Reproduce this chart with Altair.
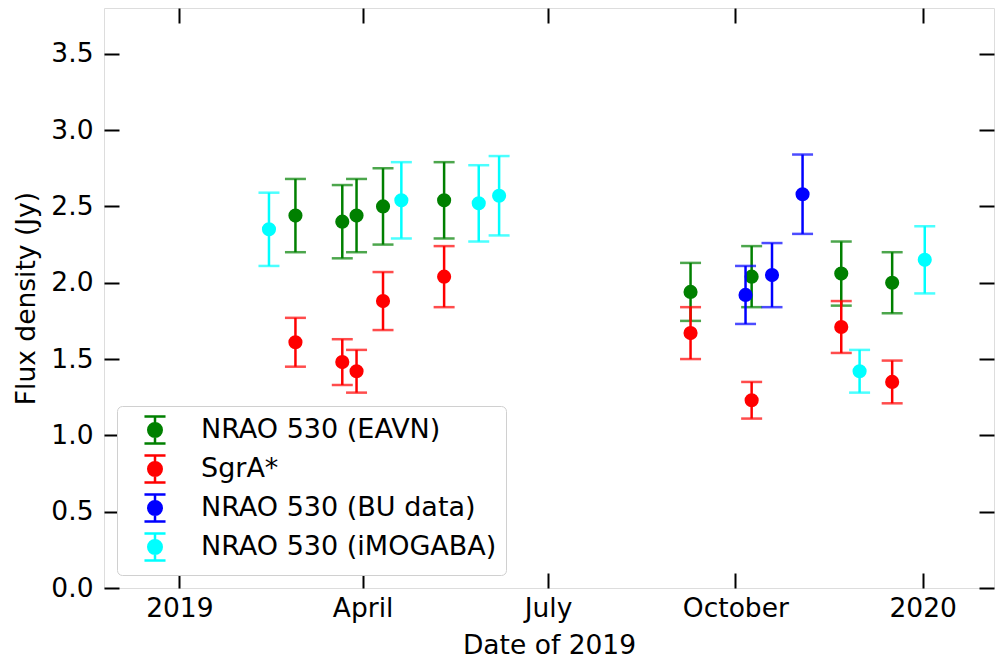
import altair as alt
import pandas as pd

# Series names and colours (legend order)
SERIES = ["NRAO 530 (EAVN)", "SgrA*", "NRAO 530 (BU data)", "NRAO 530 (iMOGABA)"]
COLORS = ["#008000", "#ff0000", "#0000ff", "#00ffff"]

# NRAO 530 observed with EAVN
eavn_dates = ["2019-02-27", "2019-03-22", "2019-03-29", "2019-04-11", "2019-05-11",
              "2019-09-09", "2019-10-09", "2019-11-22", "2019-12-17"]
eavn_flux = [2.44, 2.40, 2.44, 2.50, 2.54, 1.94, 2.04, 2.06, 2.00]
eavn_err = [0.24, 0.24, 0.24, 0.25, 0.25, 0.19, 0.20, 0.21, 0.20]

# SgrA* observed in the same sessions
sgra_dates = eavn_dates
sgra_flux = [1.61, 1.48, 1.42, 1.88, 2.04, 1.67, 1.23, 1.71, 1.35]
sgra_err = [0.16, 0.15, 0.14, 0.19, 0.20, 0.17, 0.12, 0.17, 0.14]

# NRAO 530 from the BU blazar monitoring
bu_dates = ["2019-10-06", "2019-10-19", "2019-11-03"]
bu_flux = [1.92, 2.05, 2.58]
bu_err = [0.19, 0.21, 0.26]

# NRAO 530 from iMOGABA
imogaba_dates = ["2019-02-14", "2019-04-20", "2019-05-28", "2019-06-07",
                 "2019-12-01", "2020-01-02"]
imogaba_flux = [2.35, 2.54, 2.52, 2.57, 1.42, 2.15]
imogaba_err = [0.24, 0.25, 0.25, 0.26, 0.14, 0.22]

# Axis ticks
x_tick_dates = [(2019, 1), (2019, 4), (2019, 7), (2019, 10), (2020, 1)]
y_tick_values = [0.0, 0.5, 1.0, 1.5, 2.0, 2.5, 3.0, 3.5]

rows = []
for name, dates, flux, err in [
    (SERIES[0], eavn_dates, eavn_flux, eavn_err),
    (SERIES[1], sgra_dates, sgra_flux, sgra_err),
    (SERIES[2], bu_dates, bu_flux, bu_err),
    (SERIES[3], imogaba_dates, imogaba_flux, imogaba_err),
]:
    for d, f, e in zip(dates, flux, err):
        rows.append({"series": name, "date": d, "flux": f, "lo": f - e, "hi": f + e})
df = pd.DataFrame(rows)

W, H = 890, 580
FONT = "DejaVu Sans"
FS = 26.5

x_ticks = [alt.DateTime(year=y, month=m, date=1, utc=True) for y, m in x_tick_dates]
x_scale = alt.Scale(
    type="utc",
    domain=[alt.DateTime(year=2018, month=11, date=25, utc=True),
            alt.DateTime(year=2020, month=2, date=5, utc=True)],
)
y_scale = alt.Scale(domain=[0, 3.8], nice=False, zero=False)

# error bar with caps and a filled dot, as a legend glyph
ERRBAR_SYMBOL = ("M-0.78,-1L0.78,-1M0,-1L0,1M-0.78,1L0.78,1"
                 "M0.5,0A0.5,0.5,0,1,1,-0.5,0A0.5,0.5,0,1,1,0.5,0Z")

color = alt.Color(
    "series:N",
    scale=alt.Scale(domain=SERIES, range=COLORS),
    legend=alt.Legend(
        title=None, orient="bottom-left", offset=13,
        symbolType=ERRBAR_SYMBOL, symbolSize=729, symbolStrokeWidth=2.5,
        symbolOpacity=1,
        labelFont=FONT, labelFontSize=27, labelColor="black", labelLimit=0,
        labelOffset=31, symbolOffset=14, padding=9, rowPadding=1,
        strokeColor="#d0d0d0", fillColor="white", cornerRadius=5,
    ),
)

x_label_axis = alt.Axis(
    orient="bottom", values=x_ticks,
    labelExpr="utcmonth(datum.value) == 0 ? utcFormat(datum.value, '%Y') : utcFormat(datum.value, '%B')",
    ticks=False, tickSize=0, domain=False, grid=False,
    labelFont=FONT, labelFontSize=FS, labelColor="black", labelPadding=7,
    labelFlush=False, labelOverlap=False,
    title="Date of 2019", titleFont=FONT, titleFontSize=FS, titleFontWeight="normal",
    titleColor="black", titlePadding=11,
)
y_label_axis = alt.Axis(
    orient="left", values=y_tick_values, format=".1f",
    ticks=False, tickSize=0, domain=False, grid=False,
    labelFont=FONT, labelFontSize=FS, labelColor="black", labelPadding=11,
    labelOverlap=False,
    title="Flux density (Jy)", titleFont=FONT, titleFontSize=FS, titleFontWeight="normal",
    titleColor="black", titlePadding=10,
)


def tick_axis(orient, values, offset):
    return alt.Axis(
        orient=orient, values=values, offset=offset, labels=False, domain=False,
        grid=False, ticks=True, tickSize=15, tickWidth=2, tickColor="black", title=None,
    )


layers = []
first = True
for name in SERIES:
    sub = alt.Chart(df).transform_filter(alt.datum.series == name)
    if first:
        xa, ya = x_label_axis, y_label_axis
    else:
        xa, ya = None, None
    bars = sub.mark_rule(strokeWidth=2.5).encode(
        x=alt.X("date:T", scale=x_scale, axis=xa),
        y=alt.Y("lo:Q", scale=y_scale, axis=ya),
        y2="hi:Q",
        color=color,
    )
    caps_lo = sub.mark_tick(orient="horizontal", size=21, thickness=2.5).encode(
        x=alt.X("date:T", scale=x_scale, axis=None),
        y=alt.Y("lo:Q", scale=y_scale, axis=None),
        color=color,
    )
    caps_hi = sub.mark_tick(orient="horizontal", size=21, thickness=2.5).encode(
        x=alt.X("date:T", scale=x_scale, axis=None),
        y=alt.Y("hi:Q", scale=y_scale, axis=None),
        color=color,
    )
    dots = sub.mark_point(filled=True, size=200, opacity=1, shape="circle").encode(
        x=alt.X("date:T", scale=x_scale, axis=None),
        y=alt.Y("flux:Q", scale=y_scale, axis=None),
        color=color,
    )
    layers += [bars, caps_lo, caps_hi, dots]
    first = False

# inward-pointing ticks on all four sides of the frame
frame_ticks = []
for xo, yo in [("top", "right"), ("bottom", "left")]:
    frame_ticks.append(
        alt.Chart(df).mark_point(opacity=0).encode(
            x=alt.X("date:T", scale=x_scale, axis=tick_axis(xo, x_ticks, -H)),
            y=alt.Y("flux:Q", scale=y_scale, axis=tick_axis(yo, y_tick_values, -W)),
        )
    )

chart = (
    alt.layer(*layers, *frame_ticks)
    .resolve_axis(x="independent", y="independent")
    .properties(
        width=W, height=H,
        autosize=alt.AutoSizeParams(type="none"),
        padding={"left": 104, "top": 8, "right": 3, "bottom": 72},
        background="white",
    )
    .configure_view(stroke="black", strokeWidth=2)
    .configure(font=FONT)
)

chart.save("out.html", embed_options={"renderer": "svg", "actions": False})
